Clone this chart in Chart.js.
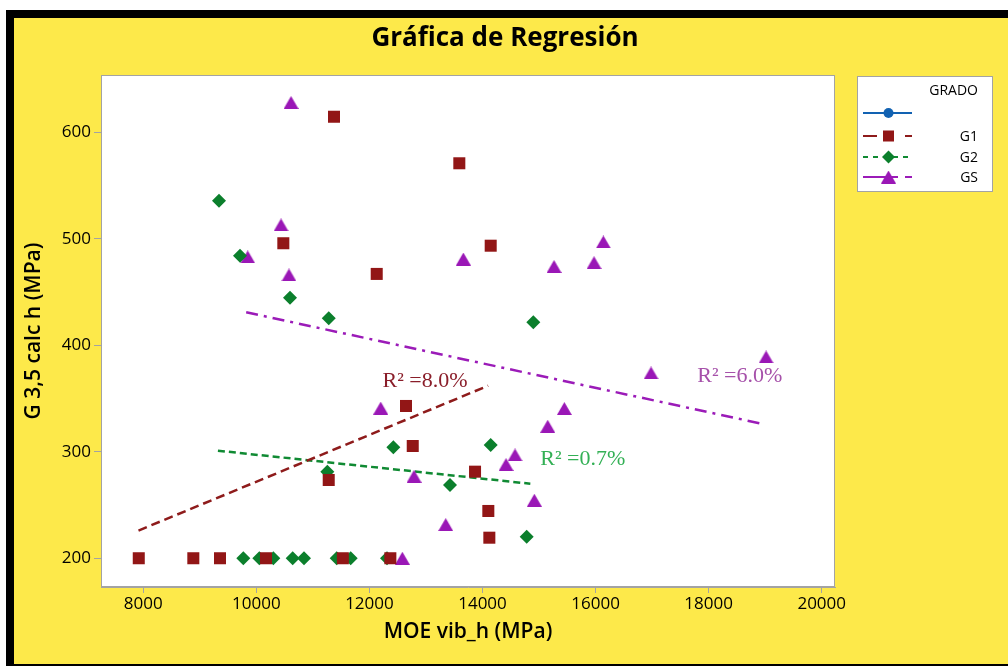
<!DOCTYPE html>
<html>
<head>
<meta charset="utf-8">
<script src="https://cdn.jsdelivr.net/npm/chart.js@4/dist/chart.umd.min.js"></script>
<style>
html,body{margin:0;padding:0;background:#fff;}
#wrap{width:1008px;height:666px;position:relative;}
</style>
</head>
<body>
<div id="wrap"><canvas id="c" width="1008" height="666"></canvas></div>
<script>
// ---------- data ----------
const chartTitle = 'Gráfica de Regresión';
const xTitle = 'MOE vib_h (MPa)';
const yTitle = 'G 3,5 calc h (MPa)';
const xTickValues = [8000, 10000, 12000, 14000, 16000, 18000, 20000];
const yTickValues = [200, 300, 400, 500, 600];
const seriesNames = ['G1', 'G2', 'GS'];
const legendTitle = 'GRADO';
const legendLabels = ['', 'G1', 'G2', 'GS'];

const g1X = [7920, 8885, 9357, 10170, 11530, 12370, 11280, 12647, 12766, 13868, 14103, 14121, 11373, 13590, 10477, 12129, 14145];
const g1Y = [200, 200, 200, 200, 200, 200, 273.5, 343, 305.4, 281.3, 244.4, 219.3, 614.6, 570.9, 495.8, 467, 493.5];

const g2X = [9339, 9711, 10595, 11280, 14899, 11255, 12423, 13425, 14145, 14782, 9769, 10052, 10300, 10643, 10843, 11421, 11669, 12311];
const g2Y = [535.8, 484.1, 444.7, 425.4, 421.6, 281.3, 304.2, 268.8, 306.4, 220.3, 200, 200, 200, 200, 200, 200, 200, 200];

const gsX = [10613, 10436, 9847, 10577, 13661, 16137, 15265, 15973, 19016, 16981, 15448, 15154, 14575, 14416, 14917, 12200, 12789, 13349, 12582];
const gsY = [628, 513, 483, 466, 481, 497, 474, 477.6, 389, 374, 340.6, 324, 297, 288, 254.5, 341, 277, 231.6, 200];

// fitted lines (end points)
const fitG1X = [7915, 14100];
const fitG1Y = [226, 362];
const fitG2X = [9320, 14846];
const fitG2Y = [301, 270];
const fitGSX = [9820, 18924];
const fitGSY = [431, 326.5];

// R-squared labels and their anchor (data coordinates)
const r2Texts = ['R² =8.0%', 'R² =0.7%', 'R² =6.0%'];
const r2X = [12983, 15775, 18550];
const r2Y = [365.8, 293, 371.2];

const xMin = 7252, xMax = 20235;
const yMin = 173, yMax = 653.8;

// ---------- styles ----------
const colG1 = '#921616', colG2 = '#0B7F2C', colGS = '#9A17B6', colBlue = '#1262B2';
const fitColG1 = '#8E1B1B', fitColG2 = '#108A33', fitColGS = '#9B1BB8';
const r2Colors = ['#8A1E2A', '#33B055', '#A651AA'];
const yellow = '#FDE94A';
const UI = '"Open Sans", "Noto Sans", sans-serif';

function toPts(xs, ys) { return xs.map((x, i) => ({x: x, y: ys[i]})); }

function triCanvas(color, w, h) {
  const c = document.createElement('canvas');
  c.width = w; c.height = h;
  const t = c.getContext('2d');
  t.fillStyle = color;
  t.beginPath();
  t.moveTo(0, h); t.lineTo(w / 2, 0); t.lineTo(w, h); t.closePath();
  t.fill();
  return c;
}
const triGS = triCanvas(colGS, 15, 13);

function drawMarker(ctx, style, x, y, color) {
  ctx.save();
  ctx.fillStyle = color;
  ctx.beginPath();
  if (style === 'circle') { ctx.arc(x, y, 5, 0, Math.PI * 2); ctx.fill(); }
  else if (style === 'rect') { ctx.fillRect(x - 5.5, y - 5.5, 11, 11); }
  else if (style === 'diamond') {
    ctx.moveTo(x - 6.5, y); ctx.lineTo(x, y - 6.5); ctx.lineTo(x + 6.5, y); ctx.lineTo(x, y + 6.5); ctx.closePath(); ctx.fill();
  } else if (style === 'tri') { ctx.drawImage(triGS, x - 7.5, y - 6.5); }
  ctx.restore();
}

const framePlugin = {
  id: 'frame',
  beforeDraw(chart) {
    const ctx = chart.ctx;
    const W = chart.width, H = chart.height;
    ctx.save();
    ctx.fillStyle = '#ffffff'; ctx.fillRect(0, 0, W, H);
    ctx.fillStyle = yellow; ctx.fillRect(14, 18, W - 14, H - 18);
    ctx.fillStyle = '#000000';
    ctx.fillRect(6, 10, W - 6, 8);
    ctx.fillRect(6, 10, 8, H - 10);
    ctx.fillRect(6, 664, W - 6, 2);
    const a = chart.chartArea;
    ctx.fillStyle = '#ffffff';
    ctx.fillRect(a.left, a.top, a.right - a.left, a.bottom - a.top);
    ctx.restore();
  },
  afterDraw(chart) {
    const ctx = chart.ctx;
    const a = chart.chartArea;
    const xs = chart.scales.x, ys = chart.scales.y;
    ctx.save();
    // plot border
    ctx.strokeStyle = '#a3a3a3'; ctx.lineWidth = 1;
    ctx.strokeRect(a.left + 0.5, a.top + 0.5, a.right - a.left - 1, a.bottom - a.top - 1);
    // title
    ctx.fillStyle = '#000';
    ctx.font = 'bold 26px ' + UI;
    ctx.textAlign = 'center'; ctx.textBaseline = 'middle';
    ctx.fillText(chartTitle, 505, 39);
    // R2 labels
    ctx.font = '22px "Liberation Serif", "DejaVu Serif", serif';
    r2Texts.forEach((t, i) => {
      ctx.fillStyle = r2Colors[i];
      ctx.fillText(t, xs.getPixelForValue(r2X[i]), ys.getPixelForValue(r2Y[i]));
    });
    // legend
    const L = 857, T = 76, R = 993, B = 192;
    ctx.fillStyle = '#fff'; ctx.fillRect(L, T, R - L, B - T);
    ctx.strokeStyle = '#a3a3a3'; ctx.strokeRect(L + 0.5, T + 0.5, R - L - 1, B - T - 1);
    ctx.fillStyle = '#000'; ctx.font = '14px ' + UI;
    ctx.textAlign = 'right';
    ctx.fillText(legendTitle, 978, 91);
    const rowsY = [113, 136, 157, 177];
    const rowCol = [colBlue, fitColG1, fitColG2, fitColGS];
    const rowMark = [colBlue, colG1, colG2, colGS];
    const rowDash = [[], [14, 28], [5, 5], [35, 7]];
    const rowStyle = ['circle', 'rect', 'diamond', 'tri'];
    legendLabels.forEach((lab, i) => {
      const y = rowsY[i];
      ctx.save();
      ctx.strokeStyle = rowCol[i]; ctx.lineWidth = 2.2;
      ctx.setLineDash(rowDash[i]);
      ctx.beginPath(); ctx.moveTo(863, y); ctx.lineTo(912, y); ctx.stroke();
      ctx.restore();
      drawMarker(ctx, rowStyle[i], 888.5, y, rowMark[i]);
      ctx.fillStyle = '#000'; ctx.font = '14px ' + UI; ctx.textAlign = 'right'; ctx.textBaseline = 'middle';
      ctx.fillText(lab, 978, y + 1);
    });
    ctx.restore();
  }
};

const tickFont = {family: UI, size: 17};

new Chart(document.getElementById('c'), {
  type: 'scatter',
  data: {
    datasets: [
      {label: seriesNames[0], data: toPts(g1X, g1Y), backgroundColor: colG1, borderWidth: 0, pointStyle: 'rect', pointRadius: 8.5},
      {label: seriesNames[1], data: toPts(g2X, g2Y), backgroundColor: colG2, borderWidth: 0, pointStyle: 'rectRot', pointRadius: 7},
      {label: seriesNames[2], data: toPts(gsX, gsY), backgroundColor: colGS, borderWidth: 0, pointStyle: triGS, pointRadius: 8},
      {label: 'fit ' + seriesNames[0], data: toPts(fitG1X, fitG1Y), showLine: true, pointRadius: 0, borderColor: fitColG1, borderWidth: 2.5, borderDash: [9, 5], fill: false},
      {label: 'fit ' + seriesNames[1], data: toPts(fitG2X, fitG2Y), showLine: true, pointRadius: 0, borderColor: fitColG2, borderWidth: 2.5, borderDash: [7, 4], fill: false},
      {label: 'fit ' + seriesNames[2], data: toPts(fitGSX, fitGSY), showLine: true, pointRadius: 0, borderColor: fitColGS, borderWidth: 2.5, borderDash: [12, 6, 3, 6], fill: false}
    ]
  },
  options: {
    responsive: false,
    animation: false,
    devicePixelRatio: 1,
    layout: {padding: {left: 0, top: 75, right: 173, bottom: 0}},
    plugins: {legend: {display: false}, tooltip: {enabled: false}, title: {display: false}},
    scales: {
      x: {
        type: 'linear', min: xMin, max: xMax,
        afterBuildTicks(s) { s.ticks = xTickValues.map(v => ({value: v})); },
        afterFit(s) { s.height = 79; },
        grid: {drawOnChartArea: false, drawTicks: true, tickLength: 6, color: '#a3a3a3'},
        border: {display: true, color: '#a3a3a3'},
        ticks: {font: tickFont, color: '#000', padding: 1, maxRotation: 0, callback: v => String(v)},
        title: {display: true, text: xTitle, color: '#000', font: {family: UI, size: 21, weight: '600'}, padding: {top: 0, bottom: 21}}
      },
      y: {
        type: 'linear', min: yMin, max: yMax,
        afterBuildTicks(s) { s.ticks = yTickValues.map(v => ({value: v})); },
        afterFit(s) { s.width = 101; },
        grid: {drawOnChartArea: false, drawTicks: true, tickLength: 7, color: '#a3a3a3'},
        border: {display: true, color: '#a3a3a3'},
        ticks: {font: tickFont, color: '#000', padding: 3, callback: v => String(v)},
        title: {display: true, text: yTitle, color: '#000', font: {family: UI, size: 21, weight: '600'}, padding: {top: 21.5, bottom: 0}}
      }
    }
  },
  plugins: [framePlugin]
});
</script>
</body>
</html>
